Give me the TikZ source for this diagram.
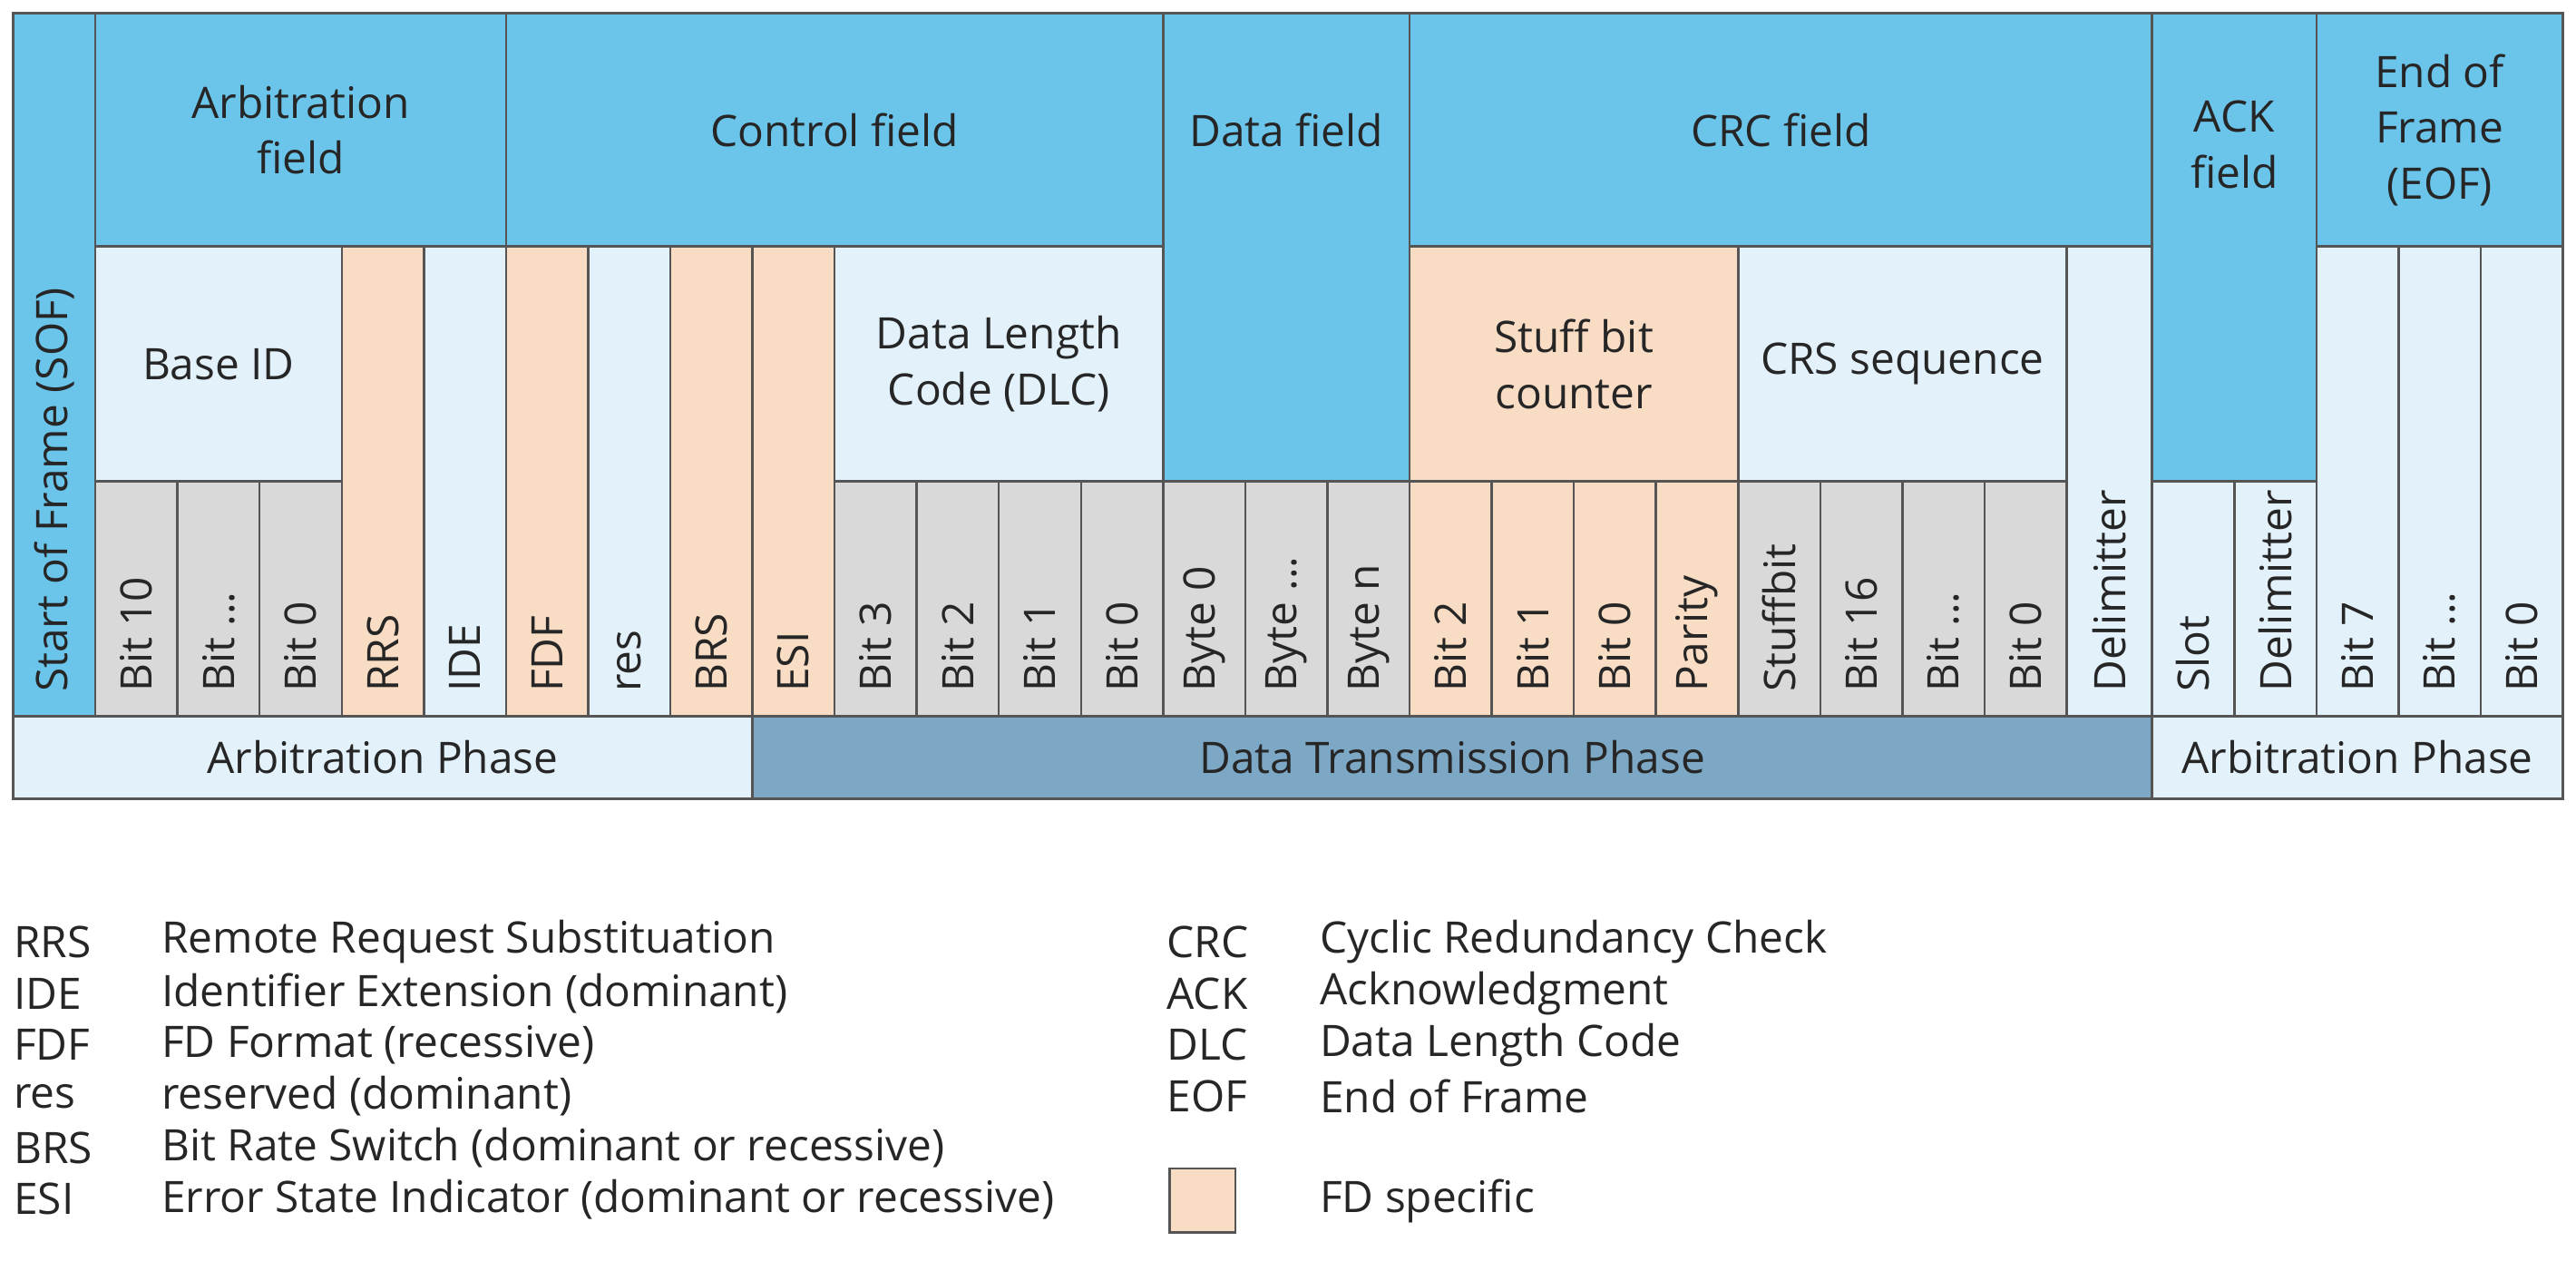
\documentclass[tikz,border=0pt]{standalone}
\usepackage{fontspec}
\setmainfont{Open Sans}
\definecolor{hdrblue}{HTML}{6BC4EA}
\definecolor{lightblue}{HTML}{E2F1FA}
\definecolor{bitgray}{HTML}{D9D9D9}
\definecolor{fdpeach}{HTML}{F8DCC4}
\definecolor{phaseblue}{HTML}{7CA8C5}
\definecolor{edge}{HTML}{555555}
\newcommand{\bdots}{...}
\tikzset{
  cell/.style={draw=edge, line width=0.7pt},
  lbl/.style={font=\fontsize{13.6}{17.5}\selectfont, align=center, text=black!85},
  vlbl/.style={lbl, rotate=90, anchor=west},
  leg/.style={font=\fontsize{13.6}{17.5}\selectfont, anchor=west, inner sep=0pt, text=black!85}
}
\begin{document}
\begin{tikzpicture}[x=0.01811cm, y=-0.01811cm]
    \useasboundingbox (0,0) rectangle (1568,773);

    % Field headers
    \filldraw[cell, fill=hdrblue] (8,8) rectangle (58,436);
    \node[vlbl] (sof) at (33,428) {Start of Frame (SOF)};
    \filldraw[cell, fill=hdrblue] (58,8) rectangle (308,150) node[midway, lbl] (arb) {Arbitration\\field};
    \filldraw[cell, fill=hdrblue] (308,8) rectangle (708,150) node[midway, lbl] (ctrl) {Control field};
    \filldraw[cell, fill=hdrblue] (708,8) rectangle (858,293);
    \node[lbl] (data) at (783,79) {Data field};
    \filldraw[cell, fill=hdrblue] (858,8) rectangle (1310,150) node[midway, lbl] (crc) {CRC field};
    \filldraw[cell, fill=hdrblue] (1310,8) rectangle (1410,293);
    \node[lbl] (ack) at (1360,88) {ACK\\field};
    \filldraw[cell, fill=hdrblue] (1410,8) rectangle (1560,150) node[midway, lbl] (eof) {End of\\Frame\\(EOF)};

    % Sub fields
    \filldraw[cell, fill=lightblue] (58,150) rectangle (208,293) node[midway, lbl] (baseid) {Base ID};
    \filldraw[cell, fill=lightblue] (508,150) rectangle (708,293) node[midway, lbl] (dlc) {Data Length\\Code (DLC)};
    \filldraw[cell, fill=fdpeach] (858,150) rectangle (1058,293) node[midway, lbl] (stuff) {Stuff bit\\counter};
    \filldraw[cell, fill=lightblue] (1058,150) rectangle (1258,293) node[midway, lbl] (crs) {CRS sequence};

    % Tall single bits
    \foreach \x/\w/\t/\c [count=\i] in {208/50/RRS/fdpeach, 258/50/IDE/lightblue, 308/50/FDF/fdpeach,
        358/50/res/lightblue, 408/50/BRS/fdpeach, 458/50/ESI/fdpeach, 1258/52/Delimitter/lightblue,
        1410/50/Bit 7/lightblue, 1460/50/Bit \bdots/lightblue, 1510/50/Bit 0/lightblue} {
      \filldraw[cell, fill=\c] (\x,150) rectangle ++(\w,286);
      \node[vlbl] (t\i) at (\x+\w/2,428) {\t};
    }

    % Short bits
    \foreach \x/\t/\c [count=\i] in {58/Bit 10/bitgray, 108/Bit \bdots/bitgray, 158/Bit 0/bitgray,
        508/Bit 3/bitgray, 558/Bit 2/bitgray, 608/Bit 1/bitgray, 658/Bit 0/bitgray,
        708/Byte 0/bitgray, 758/Byte \bdots/bitgray, 808/Byte n/bitgray,
        858/Bit 2/fdpeach, 908/Bit 1/fdpeach, 958/Bit 0/fdpeach, 1008/Parity/fdpeach,
        1058/Stuffbit/bitgray, 1108/Bit 16/bitgray, 1158/Bit \bdots/bitgray, 1208/Bit 0/bitgray,
        1310/Slot/lightblue, 1360/Delimitter/lightblue} {
      \filldraw[cell, fill=\c] (\x,293) rectangle ++(50,143);
      \node[vlbl] (s\i) at (\x+25,428) {\t};
    }

    % Phases
    \filldraw[cell, fill=lightblue] (8,436) rectangle (458,486) node[midway, lbl] (ph1) {Arbitration Phase};
    \filldraw[cell, fill=phaseblue] (458,436) rectangle (1310,486) node[midway, lbl] (ph2) {Data Transmission Phase};
    \filldraw[cell, fill=lightblue] (1310,436) rectangle (1560,486) node[midway, lbl] (ph3) {Arbitration Phase};

    % Legend
    \foreach \a/\d [count=\i] in {RRS/Remote Request Substituation, IDE/Identifier Extension (dominant),
        FDF/FD Format (recessive), res/reserved (dominant), BRS/Bit Rate Switch (dominant or recessive),
        ESI/Error State Indicator (dominant or recessive)} {
      \node[leg] (la\i) at (8,542+31.3*\i) {\a};
      \node[leg] (ld\i) at (98,542+31.3*\i) {\d};
    }
    \foreach \a/\d [count=\i] in {CRC/Cyclic Redundancy Check, ACK/Acknowledgment,
        DLC/Data Length Code, EOF/End of Frame} {
      \node[leg] (ra\i) at (710,542+31.3*\i) {\a};
      \node[leg] (rd\i) at (803,542+31.3*\i) {\d};
    }
    \filldraw[cell, fill=fdpeach] (712,711) rectangle (752,750);
    \node[leg] (fd) at (803,731) {FD specific};
\end{tikzpicture}
\end{document}
